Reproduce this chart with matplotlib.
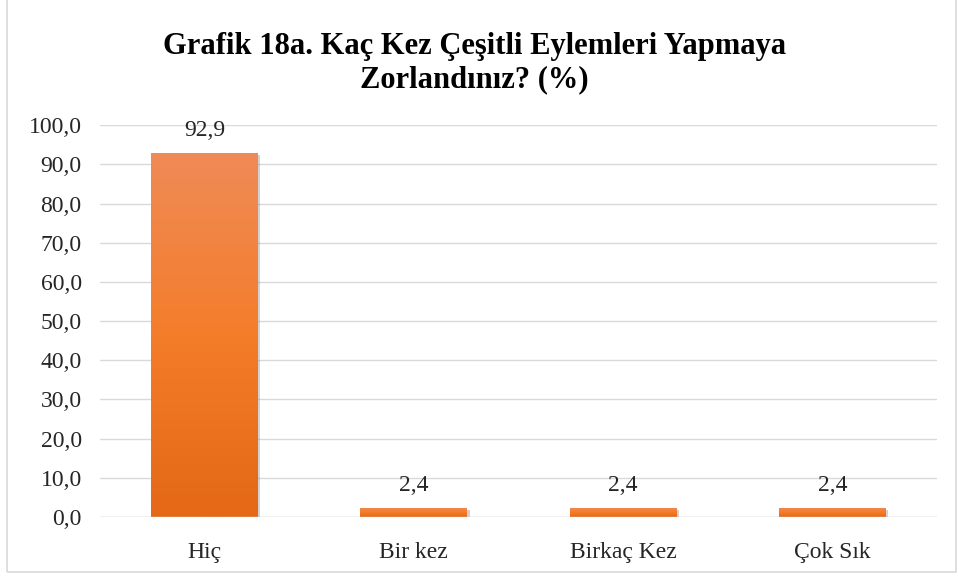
import numpy as np
import matplotlib.pyplot as plt
from matplotlib.colors import LinearSegmentedColormap
from matplotlib.patches import Rectangle

plt.rcParams['font.family'] = ['Liberation Serif', 'DejaVu Serif']

TITLE = 'Grafik 18a. Kaç Kez Çeşitli Eylemleri Yapmaya\nZorlandınız? (%)'
categories = ['Hiç', 'Bir kez', 'Birkaç Kez', 'Çok Sık']
values = [92.9, 2.4, 2.4, 2.4]
y_ticks = [0, 10, 20, 30, 40, 50, 60, 70, 80, 90, 100]

BAR_WIDTH = 0.51
grad = LinearSegmentedColormap.from_list('bar', ['#e46815', '#f47d2a', '#ef8b57'])

fig = plt.figure(figsize=(9.59, 5.77), dpi=100)
ax = fig.add_axes([0.104, 0.104, 0.873, 0.679])

x = np.arange(len(categories))
ax.set_xlim(-0.5, len(categories) - 0.5)
ax.set_ylim(0, 100)

for yt in y_ticks:
    ax.axhline(yt, color='#d9d9d9', linewidth=1.0, zorder=0)

gradient = np.linspace(0, 1, 256).reshape(-1, 1)
for xi, v in zip(x, values):
    left = xi - BAR_WIDTH / 2
    # soft drop shadow
    ax.add_patch(Rectangle((left + 0.012, -0.6), BAR_WIDTH, v, facecolor='#7f7f7f',
                           alpha=0.35, edgecolor='none', zorder=1))
    bar = Rectangle((left, 0), BAR_WIDTH, v, facecolor='none', edgecolor='none', zorder=2)
    ax.add_patch(bar)
    img = ax.imshow(gradient, cmap=grad, aspect='auto', origin='lower',
                    extent=(left, left + BAR_WIDTH, 0, v), zorder=2)
    img.set_clip_path(bar)
    ax.text(xi, v + 3.0, f'{v:.1f}'.replace('.', ','), ha='center', va='bottom',
            fontsize=17, color='#262626')

ax.set_xticks(x)
ax.set_xticklabels(categories, fontsize=17, color='#262626')
ax.set_yticks(y_ticks)
ax.set_yticklabels([f'{t:.1f}'.replace('.', ',') for t in y_ticks], fontsize=17, color='#262626')
ax.tick_params(axis='x', length=0, pad=18)
ax.tick_params(axis='y', length=0, pad=13)
for s in ax.spines.values():
    s.set_visible(False)
ax.axhline(0, color='#d9d9d9', linewidth=1.0, zorder=3)

fig.text(0.495, 0.89, TITLE, ha='center', va='center', fontsize=22,
         fontweight='bold', linespacing=1.2)

fig.patches.append(Rectangle((0.007, 0.008), 0.99, 1.2, transform=fig.transFigure,
                             facecolor='none', edgecolor='#d9d9d9', linewidth=1.2))

fig.savefig('out.png', dpi=100)
